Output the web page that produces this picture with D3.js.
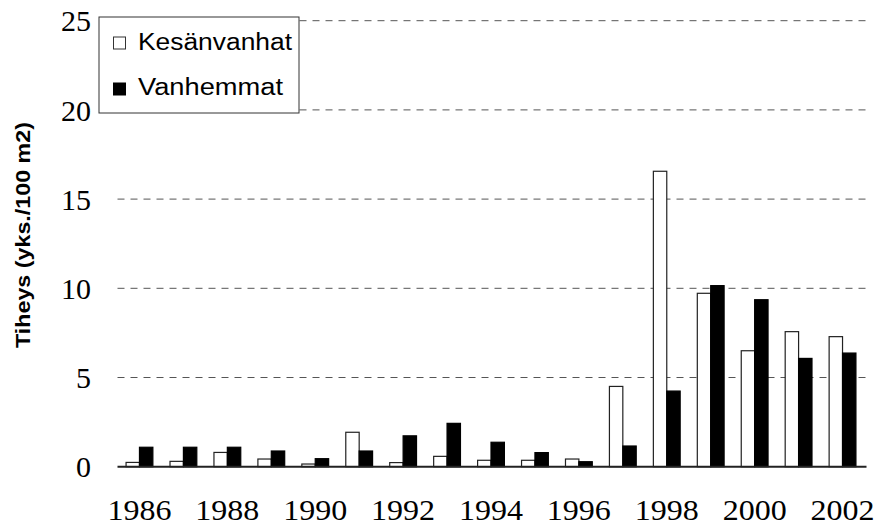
<!DOCTYPE html>
<html>
<head>
<meta charset="utf-8">
<script src="https://cdn.jsdelivr.net/npm/d3@7"></script>
<style>
  body { margin: 0; background: #fff; }
  svg { display: block; }
</style>
</head>
<body>
<script>
// vuodet ja tiheydet (yks./100 m2)
var years = [1986, 1987, 1988, 1989, 1990, 1991, 1992, 1993, 1994, 1995, 1996, 1997, 1998, 1999, 2000, 2001, 2002];
var kesanvanhat = [0.24, 0.3, 0.8, 0.43, 0.15, 1.93, 0.23, 0.58, 0.36, 0.36, 0.43, 4.5, 16.56, 9.72, 6.5, 7.57, 7.29];
var vanhemmat = [1.09, 1.09, 1.09, 0.88, 0.45, 0.88, 1.73, 2.43, 1.37, 0.79, 0.28, 1.16, 4.24, 10.15, 9.36, 6.07, 6.37];
var yTicks = [0, 5, 10, 15, 20, 25];
var xLabels = [1986, 1988, 1990, 1992, 1994, 1996, 1998, 2000, 2002];
var seriesNames = ["Kesänvanhat", "Vanhemmat"];

var W = 878, H = 532;
var plot = { left: 117.5, right: 864.5, top: 20.7, bottom: 466.7 };

var svg = d3.select("body").append("svg")
    .attr("width", W)
    .attr("height", H);

var x = d3.scaleBand()
    .domain(years)
    .range([plot.left, plot.right])
    .padding(0);

var barW = 13.4;
var inner = d3.scaleBand()
    .domain(seriesNames)
    .range([x.bandwidth() / 2 - barW, x.bandwidth() / 2 + barW]);

var y = d3.scaleLinear()
    .domain([0, 25])
    .range([plot.bottom, plot.top]);

// dashed grid lines
svg.append("g")
    .selectAll("line")
    .data(yTicks.filter(function (d) { return d > 0; }))
    .enter().append("line")
    .attr("x1", plot.left)
    .attr("x2", plot.right + 2)
    .attr("y1", function (d) { return y(d); })
    .attr("y2", function (d) { return y(d); })
    .attr("stroke", "#555")
    .attr("stroke-width", 1)
    .attr("stroke-dasharray", "7,6");

// y axis (labels only)
var yAxis = svg.append("g")
    .attr("transform", "translate(" + 91 + ",0)")
    .call(d3.axisLeft(y).tickValues(yTicks).tickSize(0).tickPadding(0));
yAxis.select(".domain").remove();
yAxis.selectAll("text")
    .attr("font-family", "'Liberation Serif', 'Times New Roman', serif")
    .attr("font-size", 30)
    .attr("fill", "#000")
    .attr("dy", "0.34em");

// bars
var rows = years.map(function (yr, i) {
    return { year: yr, values: [
        { key: "Kesänvanhat", value: kesanvanhat[i] },
        { key: "Vanhemmat", value: vanhemmat[i] }
    ] };
});

var groups = svg.append("g")
    .selectAll("g")
    .data(rows)
    .enter().append("g")
    .attr("transform", function (d) { return "translate(" + x(d.year) + ",0)"; });

groups.selectAll("rect")
    .data(function (d) { return d.values; })
    .enter().append("rect")
    .attr("x", function (d) { return inner(d.key); })
    .attr("y", function (d) { return y(d.value); })
    .attr("width", inner.bandwidth())
    .attr("height", function (d) { return y(0) - y(d.value); })
    .attr("fill", function (d) { return d.key == "Kesänvanhat" ? "#fff" : "#000"; })
    .attr("stroke", function (d) { return d.key == "Kesänvanhat" ? "#222" : "#000"; })
    .attr("stroke-width", 1.2);

// baseline
svg.append("line")
    .attr("x1", plot.left)
    .attr("x2", plot.right + 2)
    .attr("y1", y(0))
    .attr("y2", y(0))
    .attr("stroke", "#222")
    .attr("stroke-width", 2);

// x labels, every other year
svg.append("g")
    .selectAll("text")
    .data(xLabels)
    .enter().append("text")
    .attr("x", function (d) { return x(d) + x.bandwidth() / 2; })
    .attr("y", 520)
    .attr("text-anchor", "middle")
    .attr("font-family", "'Liberation Serif', 'Times New Roman', serif")
    .attr("font-size", 30)
    .attr("textLength", 64)
    .attr("lengthAdjust", "spacingAndGlyphs")
    .text(function (d) { return d; });

// y title
svg.append("text")
    .attr("transform", "translate(30," + 235 + ") rotate(-90)")
    .attr("text-anchor", "middle")
    .attr("font-family", "'Liberation Sans', Arial, sans-serif")
    .attr("font-weight", "bold")
    .attr("font-size", 20)
    .attr("textLength", 226)
    .attr("lengthAdjust", "spacingAndGlyphs")
    .text("Tiheys (yks./100 m2)");

// legend
var legend = svg.append("g");
legend.append("rect")
    .attr("x", 99)
    .attr("y", 17)
    .attr("width", 200)
    .attr("height", 96)
    .attr("fill", "#fff")
    .attr("stroke", "#333")
    .attr("stroke-width", 1);

seriesNames.forEach(function (name, i) {
    legend.append("rect")
        .attr("x", 113.5)
        .attr("y", 37 + i * 46)
        .attr("width", 12)
        .attr("height", 12)
        .attr("fill", i == 0 ? "#fff" : "#000")
        .attr("stroke", i == 0 ? "#333" : "#000")
        .attr("stroke-width", 1);
    legend.append("text")
        .attr("x", 138)
        .attr("y", 50 + i * 45)
        .attr("font-family", "'Liberation Sans', Arial, sans-serif")
        .attr("font-size", 23)
        .attr("textLength", i == 0 ? 154 : 145)
        .attr("lengthAdjust", "spacingAndGlyphs")
        .text(name);
});
</script>
</body>
</html>
